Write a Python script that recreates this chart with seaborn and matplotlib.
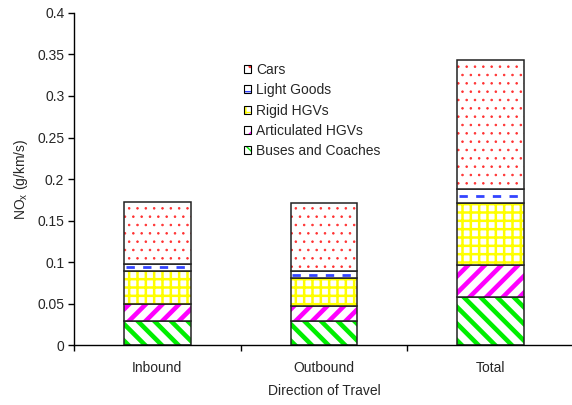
import numpy as np
import matplotlib
matplotlib.use("Agg")
import matplotlib.pyplot as plt
import seaborn as sns
from matplotlib.patches import Patch
from matplotlib.ticker import FuncFormatter, MultipleLocator

# Values (g/km/s)
directions = ['Inbound', 'Outbound', 'Total']
buses = [0.029, 0.029, 0.058]
articulated = [0.0205, 0.018, 0.039]
rigid = [0.040, 0.034, 0.074]
light_goods = [0.0085, 0.008, 0.0165]
cars = [0.074, 0.082, 0.156]

labels = ['Buses and Coaches', 'Articulated HGVs', 'Rigid HGVs', 'Light Goods', 'Cars']
colors = ['#00ee00', '#ff00ff', '#ffff00', '#3344ff', '#ff3030']
hatches = ['\\\\', '//', '++', '', '..']
hatch_lws = [3.3, 3.3, 1.8, 1.0, 0.6]

sns.set_theme(style='ticks')
plt.rcParams['font.family'] = ['Liberation Sans', 'DejaVu Sans']
plt.rcParams['font.size'] = 10

fig = plt.figure(figsize=(5.72, 4.05), dpi=100)
ax = fig.add_axes([74 / 572, 59.7 / 405, 500 / 572, 332.4 / 405])

series = [buses, articulated, rigid, light_goods, cars]
bottom = np.zeros(len(directions))
xpos = np.arange(len(directions))
bar_w = 0.4
for vals, col, hatch, hlw in zip(series, colors, hatches, hatch_lws):
    vals = np.array(vals)
    n_before = len(ax.patches)
    # hatched fill (hatch colour follows edgecolor)
    with plt.rc_context({'hatch.linewidth': hlw}):
        sns.barplot(x=directions, y=vals, bottom=bottom, width=bar_w, color='white',
                    saturation=1, errorbar=None, facecolor='white', edgecolor=col,
                    linewidth=0, hatch=hatch, ax=ax)
    for p in ax.patches[n_before:]:
        if hasattr(p, 'set_hatch_linewidth'):
            p.set_hatch_linewidth(hlw)
    # black outline on top
    sns.barplot(x=directions, y=vals, bottom=bottom, width=bar_w, fill=False,
                color='#222222', saturation=1, errorbar=None, edgecolor='#222222',
                linewidth=1.1, ax=ax)
    if hatch == '':
        # light goods: single dashed blue line through the middle of the segment
        ax.hlines(bottom + vals / 2, xpos - bar_w / 2 + 0.01, xpos + bar_w / 2 - 0.01,
                  colors=col, linestyles=(0, (3, 3)), linewidth=2.0)
    bottom = bottom + vals

ax.set_xlim(-0.5, 2.5)
ax.set_ylim(0, 0.4)
ax.yaxis.set_major_locator(MultipleLocator(0.05))
ax.yaxis.set_major_formatter(FuncFormatter(lambda v, p: f'{v:g}'))
ax.set_xticks([-0.5, 0.5, 1.5, 2.5])
ax.set_xticklabels([])
ax.set_xticks(xpos, minor=True)
ax.set_xticklabels(directions, minor=True)
ax.tick_params(axis='x', which='minor', length=0, pad=11.5, labelsize=10)
ax.tick_params(axis='x', which='major', length=4, width=1, color='black')
ax.tick_params(axis='y', length=4, width=1, pad=3, labelsize=10, color='black')
for s in ['left', 'bottom']:
    ax.spines[s].set_color('black')
    ax.spines[s].set_linewidth(1)
sns.despine(ax=ax)

ax.set_xlabel('Direction of Travel', fontsize=10, labelpad=6)
ax.set_ylabel('NO$_\\mathregular{x}$ (g/km/s)', fontsize=10, labelpad=5.5)

# legend, Cars on top
handles = []
for col, hatch, hlw in zip(colors, hatches, hatch_lws):
    h1 = Patch(facecolor='white', edgecolor=col, linewidth=0, hatch=hatch if hatch else '-')
    h2 = Patch(facecolor='none', edgecolor='black', linewidth=0.8)
    handles.append((h1, h2))
leg = ax.legend(handles[::-1], labels[::-1], loc='upper left',
                bbox_to_anchor=(244 / 572, (405 - 63) / 405), bbox_transform=fig.transFigure,
                frameon=False, fontsize=10, handlelength=0.5, handleheight=0.5,
                handletextpad=0.35, labelspacing=0.45, borderpad=0, borderaxespad=0)

fig.savefig('out.png', dpi=100)
